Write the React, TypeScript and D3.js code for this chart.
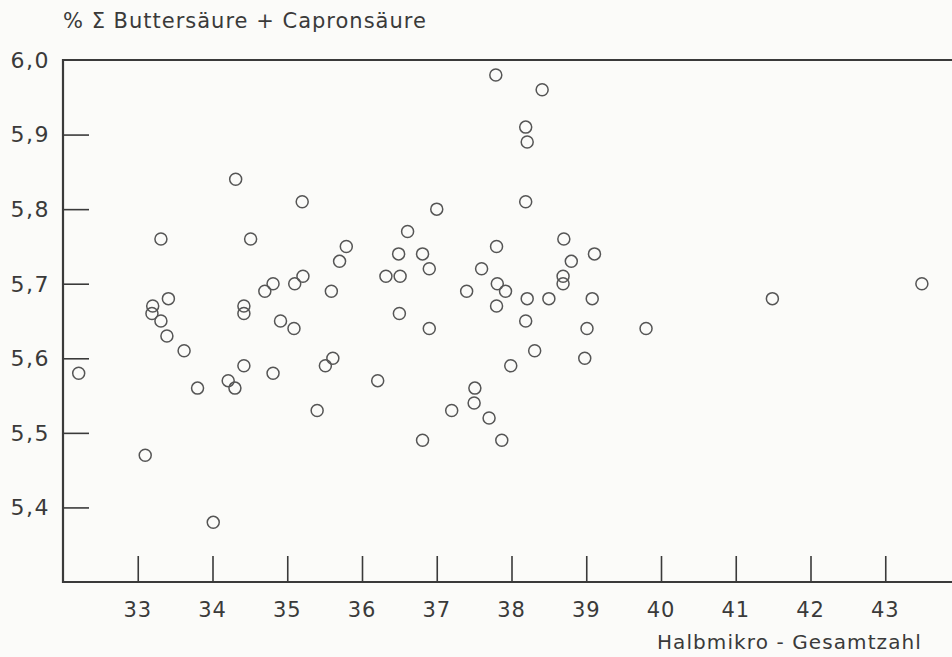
import React, { useEffect, useRef } from "react";
import * as d3 from "d3";

// Halbmikro-Gesamtzahl (x) vs. % Σ Buttersäure + Capronsäure (y)
const gesamtzahl = [
  32.21, 33.1, 33.2, 33.19, 33.31, 33.31, 33.41, 33.39, 33.62, 33.8,
  34.01, 34.21, 34.3, 34.31, 34.42, 34.42, 34.42, 34.51, 34.7, 34.81,
  34.81, 34.91, 35.1, 35.09, 35.2, 35.21, 35.4, 35.51, 35.61, 35.59,
  35.7, 35.79, 36.21, 36.32, 36.49, 36.51, 36.5, 36.61, 36.81, 36.81,
  36.9, 36.9, 37.0, 37.2, 37.4, 37.51, 37.5, 37.6, 37.7, 37.79,
  37.8, 37.81, 37.8, 37.92, 37.87, 37.99, 38.19, 38.21, 38.19, 38.21,
  38.19, 38.31, 38.41, 38.5, 38.7, 38.69, 38.69, 38.8, 39.01, 38.98,
  39.11, 39.08, 39.8, 41.49, 43.49,
];
const saeure = [
  5.58, 5.47, 5.67, 5.66, 5.65, 5.76, 5.68, 5.63, 5.61, 5.56,
  5.38, 5.57, 5.56, 5.84, 5.67, 5.66, 5.59, 5.76, 5.69, 5.7,
  5.58, 5.65, 5.7, 5.64, 5.81, 5.71, 5.53, 5.59, 5.6, 5.69,
  5.73, 5.75, 5.57, 5.71, 5.74, 5.71, 5.66, 5.77, 5.74, 5.49,
  5.72, 5.64, 5.8, 5.53, 5.69, 5.56, 5.54, 5.72, 5.52, 5.98,
  5.75, 5.7, 5.67, 5.69, 5.49, 5.59, 5.91, 5.89, 5.81, 5.68,
  5.65, 5.61, 5.96, 5.68, 5.76, 5.71, 5.7, 5.73, 5.64, 5.6,
  5.74, 5.68, 5.64, 5.68, 5.7,
];
const xTicks = [33, 34, 35, 36, 37, 38, 39, 40, 41, 42, 43];
const yTicks = [5.4, 5.5, 5.6, 5.7, 5.8, 5.9, 6.0];

const titleText = "% Σ Buttersäure + Capronsäure";
const xLabelText = "Halbmikro - Gesamtzahl";

const W = 952;
const H = 657;
const ink = "#3a3a3a";
const font = "'DejaVu Sans', sans-serif";

const App = () => {
  const svgRef = useRef<SVGSVGElement>(null);

  useEffect(() => {
    const left = 63,
      top = 60,
      bottom = 582;

    const svg = d3.select(svgRef.current);
    svg.selectAll("*").remove();

    const x = d3.scaleLinear().domain([32, 44]).range([left, left + 12 * 74.75]);
    const y = d3.scaleLinear().domain([5.3, 6.0]).range([bottom, top]);
    const fmt = (v: number) => v.toFixed(1).replace(".", ",");

    svg.append("rect").attr("width", W).attr("height", H).attr("fill", "#fbfbf9");

    // frame: left, top, bottom (open to the right)
    svg
      .append("path")
      .attr("d", `M${W + 5},${top}H${left}V${bottom}H${W + 5}`)
      .attr("fill", "none")
      .attr("stroke", ink)
      .attr("stroke-width", 2.2);

    // y axis, ticks pointing inward
    const yAxis = svg
      .append("g")
      .attr("transform", `translate(${left},0)`)
      .call(
        d3
          .axisRight(y)
          .tickValues(yTicks.filter((d) => d < 6))
          .tickSize(26)
          .tickFormat(() => "")
      );
    yAxis.select(".domain").remove();
    yAxis.selectAll("line").attr("stroke", ink).attr("stroke-width", 1.6);

    svg
      .append("g")
      .selectAll("text")
      .data(yTicks)
      .join("text")
      .attr("x", 50)
      .attr("y", (d) => y(d))
      .attr("dy", "0.36em")
      .attr("text-anchor", "end")
      .attr("font-family", font)
      .attr("font-size", 22)
      .attr("letter-spacing", 1.5)
      .attr("fill", ink)
      .text(fmt);

    // x axis, ticks pointing up
    const xAxis = svg
      .append("g")
      .attr("transform", `translate(0,${bottom})`)
      .call(d3.axisTop(x).tickValues(xTicks).tickSize(26).tickFormat(() => ""));
    xAxis.select(".domain").remove();
    xAxis.selectAll("line").attr("stroke", ink).attr("stroke-width", 1.6);

    svg
      .append("g")
      .selectAll("text")
      .data(xTicks)
      .join("text")
      .attr("x", (d) => x(d))
      .attr("y", 617)
      .attr("text-anchor", "middle")
      .attr("font-family", font)
      .attr("font-size", 21)
      .attr("letter-spacing", 1)
      .attr("fill", ink)
      .text((d) => String(d));

    svg
      .append("text")
      .attr("x", 922)
      .attr("y", 649)
      .attr("text-anchor", "end")
      .attr("font-family", font)
      .attr("font-size", 20)
      .attr("letter-spacing", 1.1)
      .attr("fill", ink)
      .text(xLabelText);

    svg
      .append("text")
      .attr("x", 63)
      .attr("y", 28)
      .attr("font-family", font)
      .attr("font-size", 21)
      .attr("letter-spacing", 1)
      .attr("fill", ink)
      .text(titleText);

    // data points
    svg
      .append("g")
      .selectAll("circle")
      .data(d3.range(gesamtzahl.length))
      .join("circle")
      .attr("cx", (i) => x(gesamtzahl[i]))
      .attr("cy", (i) => y(saeure[i]))
      .attr("r", 6)
      .attr("fill", "none")
      .attr("stroke", "#555")
      .attr("stroke-width", 1.5);
  }, []);

  return (
    <svg
      ref={svgRef}
      width={W}
      height={H}
      style={{ position: "absolute", left: 0, top: 0, display: "block" }}
    ></svg>
  );
};

export default App;
